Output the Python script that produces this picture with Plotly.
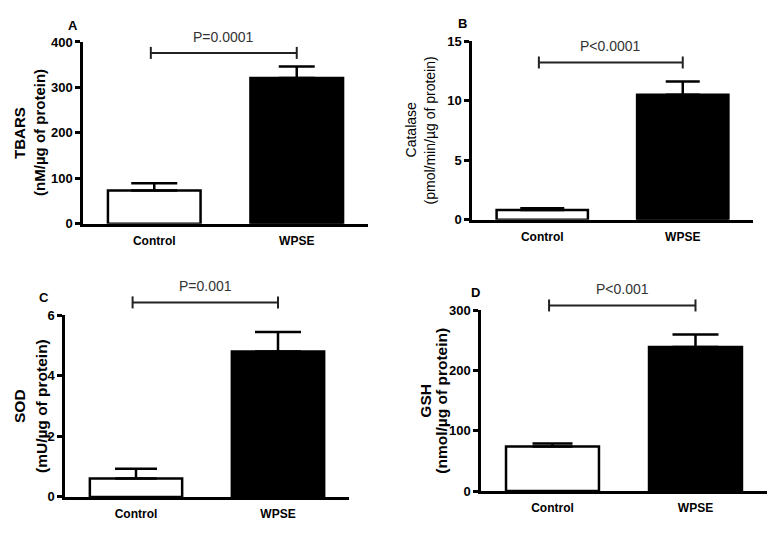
import plotly.graph_objects as go

W, H = 779, 536

# ---------------- data ----------------
groups = ["Control", "WPSE"]
panel_letters = ["A", "B", "C", "D"]
ytitle_main = ["TBARS", "Catalase", "SOD", "GSH"]
ytitle_unit = ["(nM/µg of protein)", "(pmol/min/µg of protein)",
               "(mU/µg of protein)", "(nmol/µg of protein)"]
means = [[73, 321], [0.82, 10.5], [0.61, 4.8], [74, 239]]
sems = [[16, 25], [0.16, 1.1], [0.32, 0.64], [5, 21]]
p_texts = ["P=0.0001", "P<0.0001", "P=0.001", "P<0.001"]
p_bracket_y = [376, 13.2, 6.42, 308]
y_ranges = [[0, 400], [0, 15], [0, 6], [0, 300]]
y_dticks = [100, 5, 2, 100]

# ---------------- layout geometry (pixels) ----------------
boxes = [  # left, right, top, bottom
    (83, 368, 36, 223),
    (472, 753, 35, 219),
    (65, 349, 317, 504),
    (481, 767, 312, 498),
]
letter_pos = [(73, 19), (463, 17), (44, 299), (476, 294)]
title_x1 = [20, 411, 19, 426]
title_x2 = [40, 430, 41, 442]
title_font = [dict(size=15, weight="bold"), dict(size=14, weight="normal"),
              dict(size=15.5, weight="bold"), dict(size=15.5, weight="bold")]
cap_w = [[23, 18], [22, 17], [21, 23], [20, 23]]
bar_colors = ["white", "black"]
x_range = [-0.5, 1.5]
FONT = "Liberation Sans, Arial, sans-serif"

fig = go.Figure()
layout = dict(width=W, height=H, margin=dict(l=0, r=0, t=0, b=0),
              paper_bgcolor="white", plot_bgcolor="white",
              showlegend=False, barmode="overlay",
              font=dict(family=FONT, color="black"))
annotations = []
shapes = []

for k in range(4):
    sfx = "" if k == 0 else str(k + 1)
    xa, ya = "x" + sfx, "y" + sfx
    l, r, t, b = boxes[k]
    for i, g in enumerate(groups):
        fig.add_trace(go.Bar(
            x=[g], y=[means[k][i]], xaxis=xa, yaxis=ya, width=0.65,
            marker=dict(color=bar_colors[i], line=dict(color="black", width=2.5)),
            error_y=dict(type="data", symmetric=False, array=[sems[k][i]],
                         arrayminus=[0], color="black", thickness=2.5,
                         width=cap_w[k][i]),
            hoverinfo="skip"))
    layout["xaxis" + sfx] = dict(
        domain=[l / W, r / W], anchor=ya, type="category",
        categoryorder="array", categoryarray=groups, range=x_range,
        showline=True, linewidth=2.5, linecolor="black", ticks="",
        showgrid=False, zeroline=False, ticklabelstandoff=4,
        tickfont=dict(size=12, weight="bold", family=FONT))
    layout["yaxis" + sfx] = dict(
        domain=[1 - b / H, 1 - t / H], anchor=xa, range=y_ranges[k],
        dtick=y_dticks[k], showline=True, linewidth=2.5, linecolor="black",
        ticks="outside", ticklen=5, tickwidth=2.5, tickcolor="black",
        showgrid=False, zeroline=False,
        tickfont=dict(size=13, weight="bold", family=FONT))

    # significance bracket (domain refs so it can sit above the axis range)
    yf = (p_bracket_y[k] - y_ranges[k][0]) / (y_ranges[k][1] - y_ranges[k][0])
    xf0 = (0 - x_range[0]) / (x_range[1] - x_range[0]) - 0.012
    xf1 = (1 - x_range[0]) / (x_range[1] - x_range[0])
    xr, yr = xa + " domain", ya + " domain"
    lc = dict(color="#222222", width=2)
    shapes.append(dict(type="line", xref=xr, yref=yr, x0=xf0, x1=xf1, y0=yf, y1=yf, line=lc))
    for xf in (xf0, xf1):
        shapes.append(dict(type="line", xref=xr, yref=yr, xsizemode="pixel",
                           ysizemode="pixel", xanchor=xf, yanchor=yf,
                           x0=0, x1=0, y0=-6, y1=6, line=lc))
    annotations.append(dict(text=p_texts[k], xref=xr, yref=yr, x=(xf0 + xf1) / 2,
                            y=yf, yshift=16, showarrow=False, xanchor="center",
                            yanchor="middle",
                            font=dict(size=14, color="#333333", family=FONT)))
    # panel letter
    lx, ly = letter_pos[k]
    annotations.append(dict(text=panel_letters[k], xref="paper", yref="paper",
                            x=lx / W, y=1 - ly / H, showarrow=False,
                            xanchor="center", yanchor="middle",
                            font=dict(size=13, weight="bold", family=FONT)))
    # y title, two lines
    for txt, tx in ((ytitle_main[k], title_x1[k]), (ytitle_unit[k], title_x2[k])):
        annotations.append(dict(text=txt, xref="paper", yref="paper",
                                x=tx / W, y=1 - (t + b) / 2 / H,
                                showarrow=False, textangle=-90,
                                xanchor="center", yanchor="middle",
                                font=dict(family=FONT, color="black", **title_font[k])))

layout["annotations"] = annotations
layout["shapes"] = shapes
fig.update_layout(**layout)
fig.write_html("out.html")
